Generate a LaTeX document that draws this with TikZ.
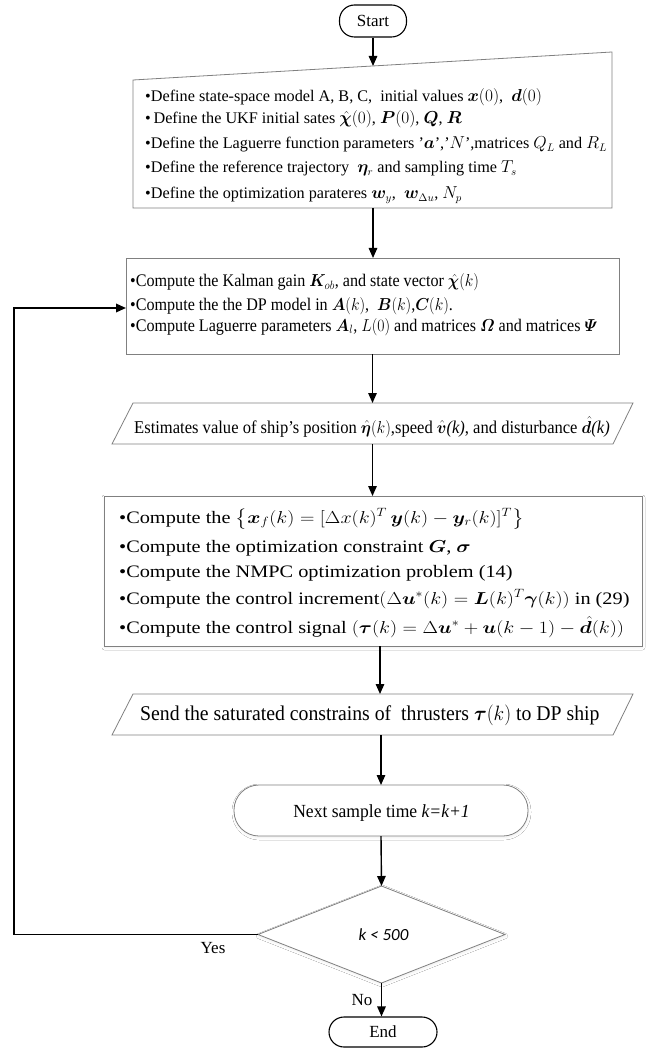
\documentclass[tikz,border=0pt]{standalone}
\usepackage{amsmath}
\usepackage{graphicx}
\usepackage{fontspec}
\usepackage{bm}
\setmainfont{Liberation Serif}
\newfontfamily\carlito{Carlito}
\newcommand{\hs}[2]{\scalebox{#1}[1]{#2}}
\usetikzlibrary{arrows.meta,shapes.geometric,shadows.blur}
\tikzset{
  outline/.style={draw=black!50, line width=0.8pt},
  arr/.style={-{Triangle[length=10pt,width=8.5pt]}, line width=1.4pt, draw=black},
  looparr/.style={-{Triangle[length=10pt,width=8.5pt]}, line width=1.8pt, draw=black},
  term/.style={draw=black, line width=1.1pt, rounded corners=15pt, inner sep=0pt,
    font=\fontsize{17}{20}\selectfont},
  blank/.style={inner sep=0pt, outer sep=0pt},
  softshadow/.style={blur shadow={shadow xshift=0.5pt, shadow yshift=-1.5pt,
    shadow blur radius=2.5pt, shadow opacity=7, shadow blur steps=5}},
  lineA/.style={anchor=base west, inner sep=0pt, font=\fontsize{16.2}{18}\selectfont},
  lineB/.style={anchor=base west, inner sep=0pt, font=\fontsize{17.7}{20}\selectfont},
  lineP/.style={anchor=base west, inner sep=0pt, font=\fontsize{18}{20}\selectfont},
  lineQ/.style={anchor=base west, inner sep=0pt, font=\fontsize{21}{24}\selectfont},
  lineC/.style={anchor=base west, inner sep=0pt, font=\fontsize{17.5}{20}\selectfont},
  lbl/.style={inner sep=0pt, font=\fontsize{17}{20}\selectfont},
}
\begin{document}
\begin{tikzpicture}[x=1pt,y=-1pt]
\useasboundingbox[fill=white] (0,0) rectangle (650,1048);

% Start
\node[term, minimum width=67pt, minimum height=32pt] (start) at (373,21) {Start};

% Box 1 (manual input)
\draw[outline] (133,80) -- (612,52) -- (612,208) -- (133,208) -- cycle;
\coordinate (b1in) at (373,66);
\coordinate (b1out) at (373,208);
\node[lineA] (b1l1) at (145,101.5) {•Define state-space model A, B, C,\ \ initial values $\boldsymbol{x}(0)$, \ $\boldsymbol{d}(0)$};
\node[lineA] (b1l2) at (145,123.5) {•\,Define the UKF initial sates $\hat{\boldsymbol{\chi}}(0)$, $\boldsymbol{P}(0)$, $\boldsymbol{Q}$, $\boldsymbol{R}$};
\node[lineA] (b1l3) at (145,148.5) {•Define the Laguerre function parameters '$\boldsymbol{a}$','$N$',matrices $Q_L$ and $R_L$};
\node[lineA] (b1l4) at (145,172.5) {•Define the reference trajectory \ $\boldsymbol{\eta}_r$ and sampling time $T_s$};
\node[lineA] (b1l5) at (145,199) {•Define the optimization parateres $\boldsymbol{w}_y$, \ $\boldsymbol{w}_{\Delta u}$, $N_p$};

% Box 2
\node[outline, blank, minimum width=493pt, minimum height=96pt] (b2) at (372.5,306) {};
\node[lineB] (b2l1) at (130,287) {\hs{0.91}{•Compute the Kalman gain $\boldsymbol{K}_{ob}$, and state vector $\hat{\boldsymbol{\chi}}(k)$}};
\node[lineB] (b2l2) at (130,310) {\hs{0.91}{•Compute the the DP model in $\boldsymbol{A}(k)$, \ $\boldsymbol{B}(k)$,$\boldsymbol{C}(k)$.}};
\node[lineB] (b2l3) at (130,331) {\hs{0.91}{•Compute Laguerre parameters $\boldsymbol{A}_l$, $L(0)$ and matrices $\boldsymbol{\varOmega}$ and matrices $\boldsymbol{\varPsi}$}};

% Parallelogram 1
\draw[outline] (112,444) -- (133,403) -- (633,403) -- (613,444) -- cycle;
\node[blank, minimum width=500pt, minimum height=41pt] (p1) at (372.5,423.5) {};
\node[lineP] (p1t) at (134,433) {\hs{0.92}{Estimates value of ship's position $\hat{\boldsymbol{\eta}}(k)$,speed $\hat{\boldsymbol{v}}$\textit{(k)}, and disturbance $\hat{\boldsymbol{d}}$\textit{(k)}}};

% Box 4
\node[outline, blank, fill=white, softshadow, minimum width=538pt, minimum height=150pt] (b4) at (373,571) {};
\node[lineC] (b4l1) at (119,523) {\hs{1.16}{•Compute the $\left\{\boldsymbol{x}_f(k)=[\Delta x(k)^T\,\boldsymbol{y}(k)-\boldsymbol{y}_r(k)]^T\right\}$}};
\node[lineC] (b4l2) at (119,552) {\hs{1.16}{•Compute the optimization constraint $\boldsymbol{G}$, $\boldsymbol{\sigma}$}};
\node[lineC] (b4l3) at (119,577) {\hs{1.16}{•Compute the NMPC optimization problem (14)}};
\node[lineC] (b4l4) at (119,604) {\hs{1.16}{•Compute the control increment$(\Delta\boldsymbol{u}^*(k)=\boldsymbol{L}(k)^T\boldsymbol{\gamma}(k))$ in (29)}};
\node[lineC] (b4l5) at (119,633) {\hs{1.16}{•Compute the control signal $(\boldsymbol{\tau}(k)=\Delta\boldsymbol{u}^*+\boldsymbol{u}(k-1)-\hat{\boldsymbol{d}}(k))$}};

% Parallelogram 2
\draw[outline] (112,735) -- (133,694) -- (633,694) -- (613,735) -- cycle;
\node[blank, minimum width=500pt, minimum height=41pt] (p2) at (372.5,714.5) {};
\node[lineQ] (p2t) at (140,720) {\hs{0.94}{Send the saturated constrains of \ thrusters $\boldsymbol{\tau}(k)$ to DP ship}};

% Rounded rectangle
\node[outline, blank, fill=white, softshadow, rounded corners=25pt, minimum width=294pt, minimum height=51pt] (rr) at (381,810.5) {};
\node[lbl, anchor=base, font=\fontsize{18.5}{20}\selectfont] (rrt) at (381.5,817) {\hs{0.95}{Next sample time \textit{k=k+1}}};

% Diamond
\node[outline, blank, diamond, fill=white, softshadow, minimum width=247pt, minimum height=97pt] (dm) at (381.5,934.5) {};
\node[lbl, anchor=base, font=\carlito\itshape\fontsize{17}{20}\selectfont] (dmt) at (383.5,940) {k < 500};

% End
\node[term, minimum width=108pt, minimum height=30pt] (end) at (383,1032) {End};

% Labels
\node[lbl, anchor=base] (yes) at (213,953) {Yes};
\node[lbl, anchor=base] (no) at (362,1005) {No};

% Connectors
\draw[arr] (start.south) -- (b1in);
\draw[arr] (b1out) -- (b1out |- b2.north);
\draw[arr] (b2.south) -- (p1.north);
\draw[arr] (p1.south) -- (p1.south |- b4.north);
\draw[arr] ([xshift=7pt]b4.south) -- ([xshift=7pt]b4.south |- p2.north);
\draw[arr] ([xshift=8.5pt]p2.south) -- (rr.north);
\draw[arr] (rr.south) -- (dm.north);
\draw[arr] (dm.south) -- (dm.south |- end.north);
\draw[looparr] (dm.west) -- ++(-244,0) |- ([yshift=-2pt]b2.west);
\end{tikzpicture}
\end{document}
